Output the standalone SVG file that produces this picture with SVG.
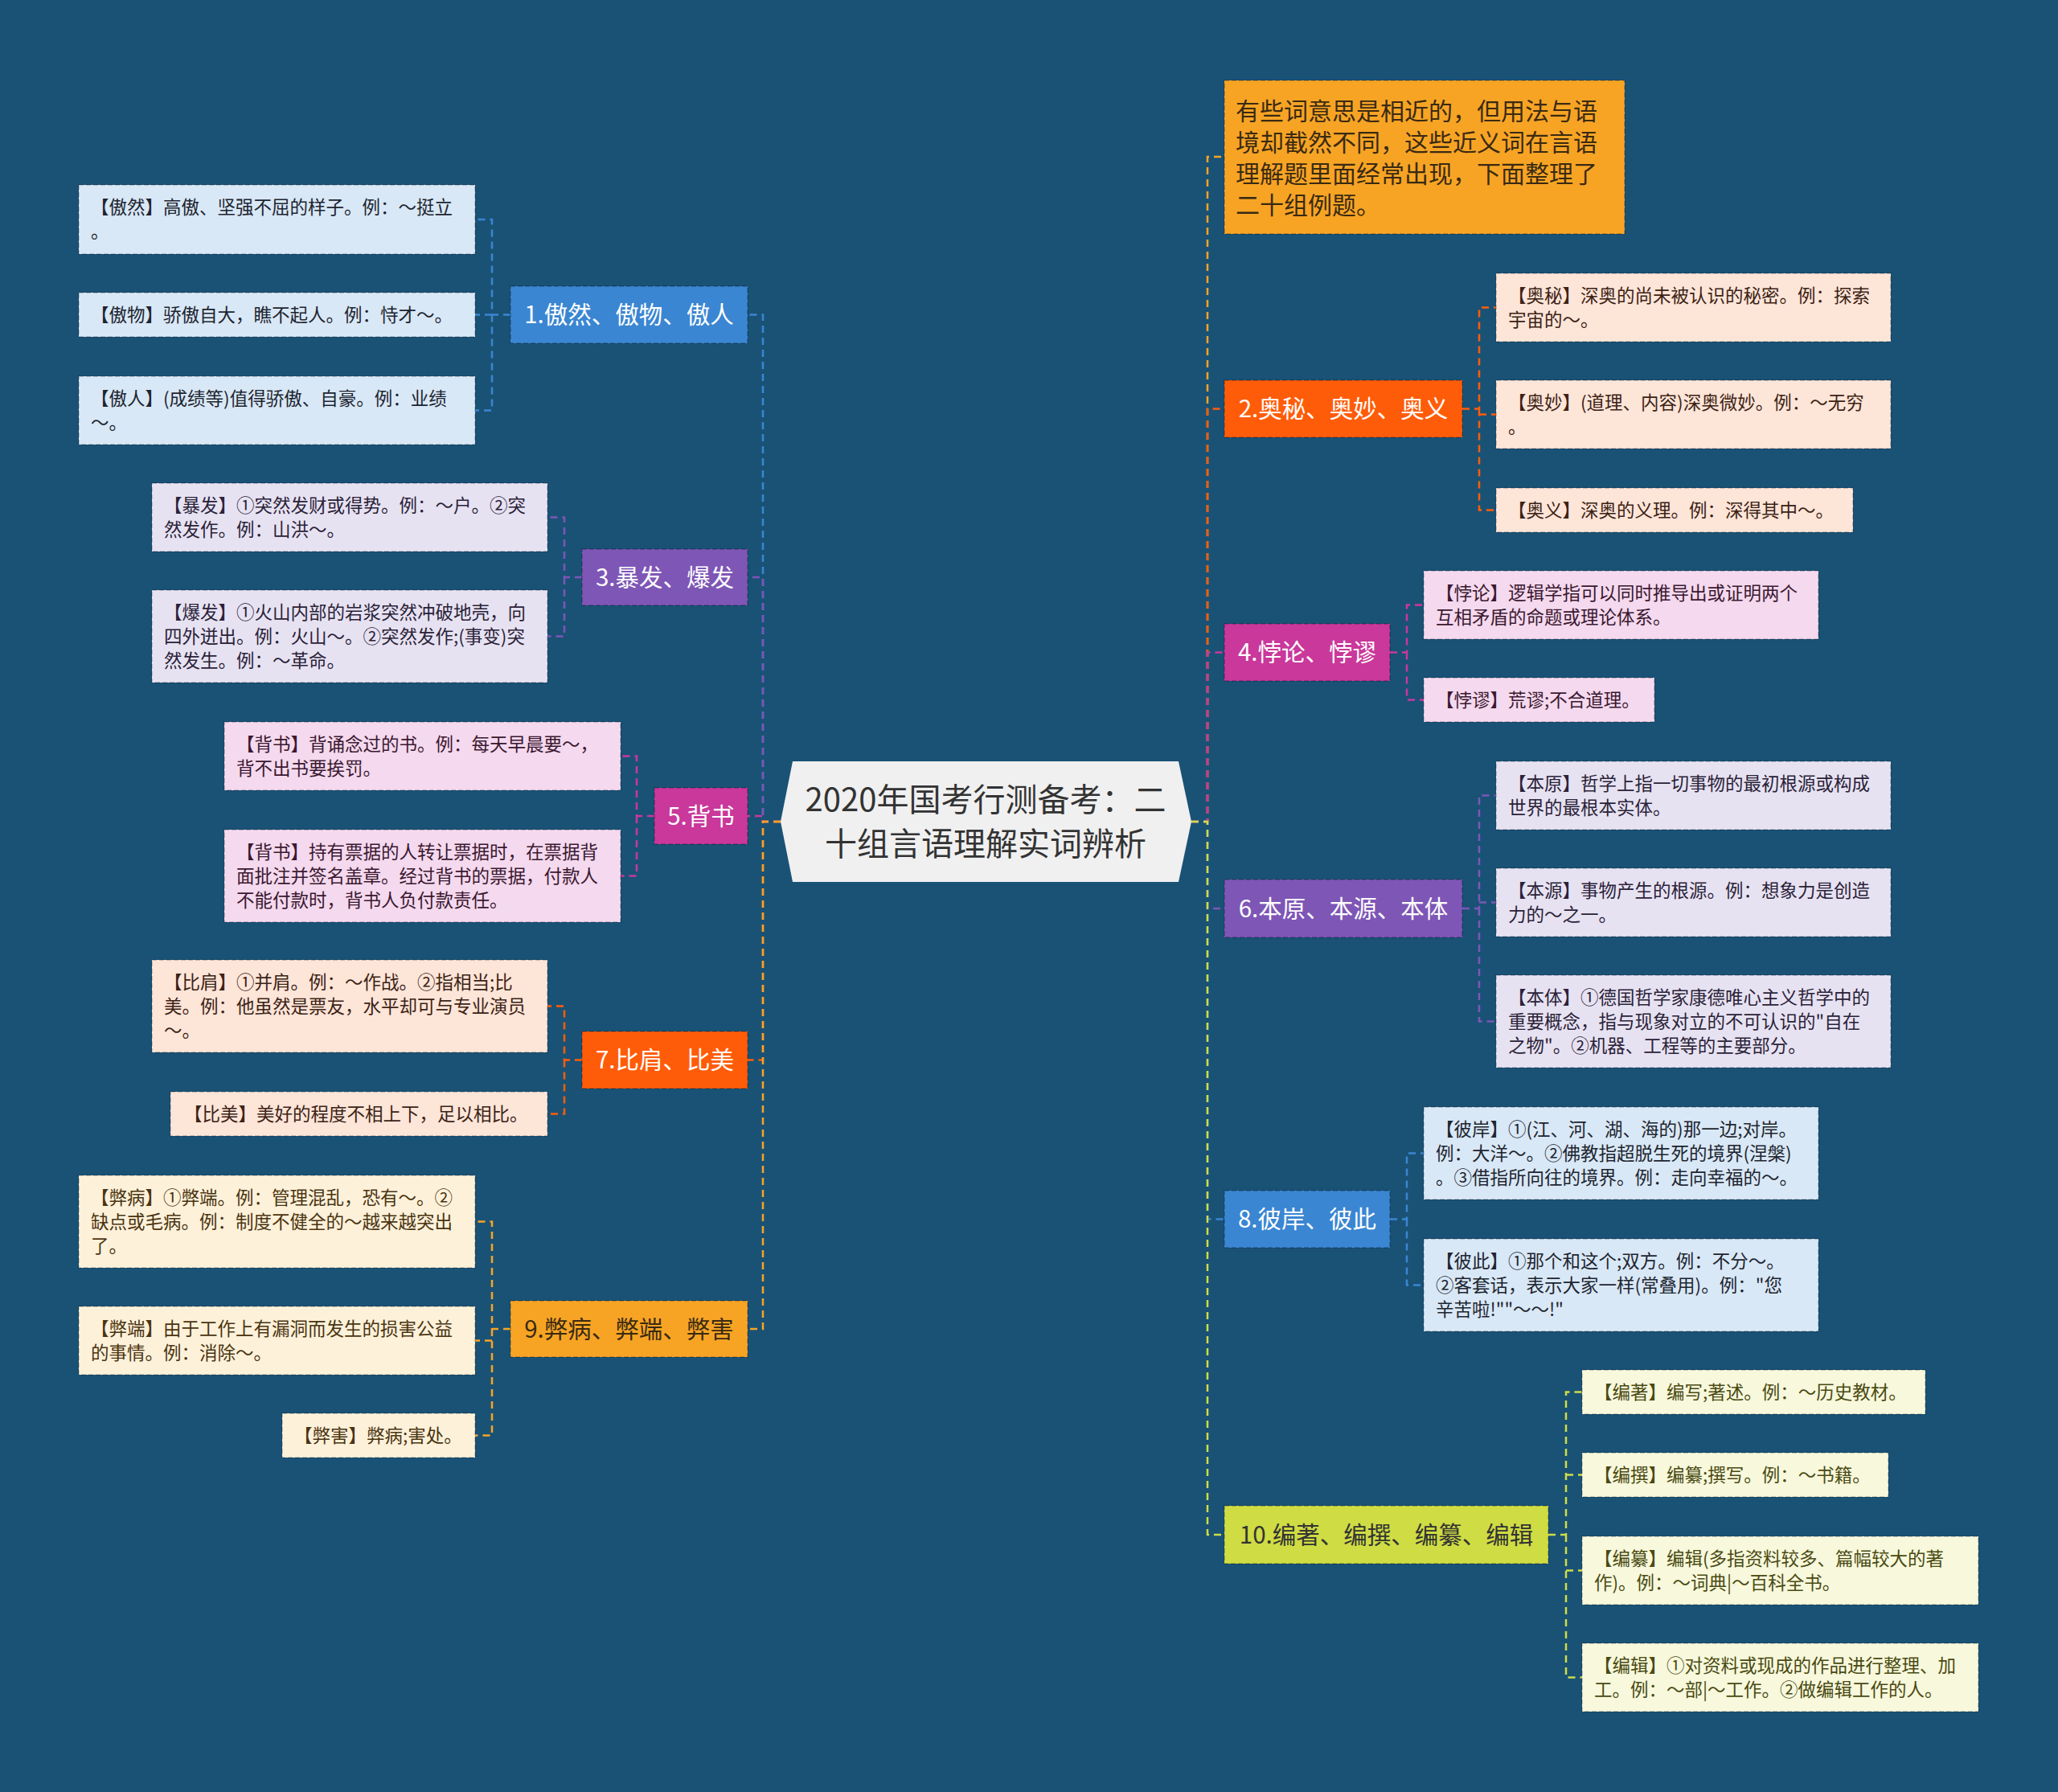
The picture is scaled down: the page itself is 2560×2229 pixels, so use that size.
<svg xmlns="http://www.w3.org/2000/svg" width="2560" height="2229" viewBox="0 0 2560 2229">
<style>
text{font-family:"Noto Sans CJK SC","Noto Sans",sans-serif}
.lf text{font-size:22.5px}
.br text{font-size:29.5px;text-anchor:middle}
.lf rect{stroke:#000;stroke-opacity:.18;stroke-width:2;stroke-dasharray:6 3}
.br rect{stroke:#000;stroke-opacity:.2;stroke-width:2;stroke-dasharray:6 3}
.cn path{fill:none;stroke-width:2.5;stroke-dasharray:9 6}
.blue{stroke:#3a86d2}.purp{stroke:#7e56b6}.mag{stroke:#c9389a}.ored{stroke:#ff5c0a}.ora{stroke:#f6a425}.yg{stroke:#cfdc43}
</style>
<rect x="0" y="0" width="2560" height="2229" fill="#1a5276"/>

<g id="connectors" class="cn">
  <!-- left trunk -->
  <path class="blue" d="M971 1022H949V391.5H930"/>
  <path class="purp" d="M971 1022H949V718H930"/>
  <path class="mag" d="M971 1022H949V1015H930"/>
  <path class="ored" d="M971 1022H949V1318.5H930"/>
  <path class="ora" d="M971 1022H949V1653H930"/>
  <!-- right trunk -->
  <path class="ora" d="M1482 1022H1502V195H1523"/>
  <path class="ored" d="M1482 1022H1502V508.5H1523"/>
  <path class="mag" d="M1482 1022H1502V811.5H1523"/>
  <path class="purp" d="M1482 1022H1502V1130H1523"/>
  <path class="blue" d="M1482 1022H1502V1516.5H1523"/>
  <path class="yg" d="M1482 1022H1502V1909H1523"/>
  <!-- branch 1 -->
  <path class="blue" d="M635 391.5H612V273H591M612 391.5H591M612 391.5V510.5H591"/>
  <!-- branch 3 -->
  <path class="purp" d="M724 718H702V643.5H681M702 718V791.5H681"/>
  <!-- branch 5 -->
  <path class="mag" d="M814 1015H792V940.5H772M792 1015V1089.5H772"/>
  <!-- branch 7 -->
  <path class="ored" d="M724 1318.5H702V1251.5H681M702 1318.5V1385.5H681"/>
  <!-- branch 9 -->
  <path class="ora" d="M635 1653H612V1519.5H591M612 1653V1785.5H591M612 1667.5H591"/>
  <!-- branch 2 -->
  <path class="ored" d="M1819 508.5H1840V382.5H1861M1840 508.5V634.5H1861M1840 515.5H1861"/>
  <!-- branch 4 -->
  <path class="mag" d="M1729 811.5H1750V752.5H1771M1750 811.5V870.5H1771"/>
  <!-- branch 6 -->
  <path class="purp" d="M1819 1130H1840V989.5H1861M1840 1130V1270.5H1861M1840 1122.5H1861"/>
  <!-- branch 8 -->
  <path class="blue" d="M1729 1516.5H1750V1434.5H1771M1750 1516.5V1598.5H1771"/>
  <!-- branch 10 -->
  <path class="yg" d="M1926 1909H1948V1731.5H1968M1948 1834.5H1968M1948 1909V2086.5H1968M1948 1953.5H1968"/>
</g>

<g id="root">
  <polygon points="971,1022 986,947 1466,947 1482,1022 1466,1097 986,1097" fill="#f0f0f0"/>
  <text x="1226" y="1009" font-size="40" fill="#333" text-anchor="middle">2020年国考行测备考：二</text>
  <text x="1226" y="1064" font-size="40" fill="#333" text-anchor="middle">十组言语理解实词辨析</text>
</g>

<g id="intro" class="br">
  <rect x="1523" y="100" width="498" height="191" fill="#f7a425"/>
  <text x="1537" y="149" fill="#3a2a12" style="text-anchor:start;font-size:30px">有些词意思是相近的，但用法与语</text>
  <text x="1537" y="188" fill="#3a2a12" style="text-anchor:start;font-size:30px">境却截然不同，这些近义词在言语</text>
  <text x="1537" y="227" fill="#3a2a12" style="text-anchor:start;font-size:30px">理解题里面经常出现，下面整理了</text>
  <text x="1537" y="266" fill="#3a2a12" style="text-anchor:start;font-size:30px">二十组例题。</text>
</g>

<!-- Branch 1 -->
<g id="b1" class="br"><rect x="635" y="356" width="295" height="71" fill="#3a86d2"/><text x="782.5" y="402" fill="#fff">1.傲然、傲物、傲人</text></g>
<g id="l1a" class="lf"><rect x="98" y="230" width="493" height="86" fill="#d9e8f6"/><text x="113" y="266" fill="#1d2530">【傲然】高傲、坚强不屈的样子。例：～挺立</text><text x="113" y="296" fill="#1d2530">。</text></g>
<g id="l1b" class="lf"><rect x="98" y="364" width="493" height="55" fill="#d9e8f6"/><text x="113" y="400" fill="#1d2530">【傲物】骄傲自大，瞧不起人。例：恃才～。</text></g>
<g id="l1c" class="lf"><rect x="98" y="468" width="493" height="85" fill="#d9e8f6"/><text x="113" y="504" fill="#1d2530">【傲人】(成绩等)值得骄傲、自豪。例：业绩</text><text x="113" y="534" fill="#1d2530">～。</text></g>

<!-- Branch 3 -->
<g id="b3" class="br"><rect x="724" y="683" width="206" height="70" fill="#7e56b6"/><text x="827" y="728.5" fill="#fff">3.暴发、爆发</text></g>
<g id="l3a" class="lf"><rect x="189" y="601" width="492" height="85" fill="#e7e2f2"/><text x="204" y="637" fill="#2a2238">【暴发】①突然发财或得势。例：～户。②突</text><text x="204" y="667" fill="#2a2238">然发作。例：山洪～。</text></g>
<g id="l3b" class="lf"><rect x="189" y="734" width="492" height="115" fill="#e7e2f2"/><text x="204" y="770" fill="#2a2238">【爆发】①火山内部的岩浆突然冲破地壳，向</text><text x="204" y="800" fill="#2a2238">四外迸出。例：火山～。②突然发作;(事变)突</text><text x="204" y="830" fill="#2a2238">然发生。例：～革命。</text></g>

<!-- Branch 5 -->
<g id="b5" class="br"><rect x="814" y="980" width="116" height="70" fill="#c9389a"/><text x="872" y="1025.5" fill="#fff">5.背书</text></g>
<g id="l5a" class="lf"><rect x="279" y="898" width="493" height="85" fill="#f5d9ee"/><text x="294" y="934" fill="#3a1830">【背书】背诵念过的书。例：每天早晨要～，</text><text x="294" y="964" fill="#3a1830">背不出书要挨罚。</text></g>
<g id="l5b" class="lf"><rect x="279" y="1032" width="493" height="115" fill="#f5d9ee"/><text x="294" y="1068" fill="#3a1830">【背书】持有票据的人转让票据时，在票据背</text><text x="294" y="1098" fill="#3a1830">面批注并签名盖章。经过背书的票据，付款人</text><text x="294" y="1128" fill="#3a1830">不能付款时，背书人负付款责任。</text></g>

<!-- Branch 7 -->
<g id="b7" class="br"><rect x="724" y="1283" width="206" height="71" fill="#ff5c0a"/><text x="827" y="1329" fill="#fff">7.比肩、比美</text></g>
<g id="l7a" class="lf"><rect x="189" y="1194" width="492" height="115" fill="#fde5d8"/><text x="204" y="1230" fill="#3c2214">【比肩】①并肩。例：～作战。②指相当;比</text><text x="204" y="1260" fill="#3c2214">美。例：他虽然是票友，水平却可与专业演员</text><text x="204" y="1290" fill="#3c2214">～。</text></g>
<g id="l7b" class="lf"><rect x="212" y="1358" width="469" height="55" fill="#fde5d8"/><text x="229" y="1394" fill="#3c2214">【比美】美好的程度不相上下，足以相比。</text></g>

<!-- Branch 9 -->
<g id="b9" class="br"><rect x="635" y="1618" width="295" height="70" fill="#f7a425"/><text x="782.5" y="1663.5" fill="#3a2a12">9.弊病、弊端、弊害</text></g>
<g id="l9a" class="lf"><rect x="98" y="1462" width="493" height="115" fill="#fdf1da"/><text x="113" y="1498" fill="#4a3410">【弊病】①弊端。例：管理混乱，恐有～。②</text><text x="113" y="1528" fill="#4a3410">缺点或毛病。例：制度不健全的～越来越突出</text><text x="113" y="1558" fill="#4a3410">了。</text></g>
<g id="l9b" class="lf"><rect x="98" y="1625" width="493" height="85" fill="#fdf1da"/><text x="113" y="1661" fill="#4a3410">【弊端】由于工作上有漏洞而发生的损害公益</text><text x="113" y="1691" fill="#4a3410">的事情。例：消除～。</text></g>
<g id="l9c" class="lf"><rect x="351" y="1758" width="240" height="55" fill="#fdf1da"/><text x="366" y="1794" fill="#4a3410">【弊害】弊病;害处。</text></g>

<!-- Branch 2 -->
<g id="b2" class="br"><rect x="1523" y="473" width="296" height="71" fill="#ff5c0a"/><text x="1671" y="519" fill="#fff">2.奥秘、奥妙、奥义</text></g>
<g id="l2a" class="lf"><rect x="1861" y="340" width="491" height="85" fill="#fde5d8"/><text x="1876" y="376" fill="#3c2214">【奥秘】深奥的尚未被认识的秘密。例：探索</text><text x="1876" y="406" fill="#3c2214">宇宙的～。</text></g>
<g id="l2b" class="lf"><rect x="1861" y="473" width="491" height="85" fill="#fde5d8"/><text x="1876" y="509" fill="#3c2214">【奥妙】(道理、内容)深奥微妙。例：～无穷</text><text x="1876" y="539" fill="#3c2214">。</text></g>
<g id="l2c" class="lf"><rect x="1861" y="607" width="444" height="55" fill="#fde5d8"/><text x="1876" y="643" fill="#3c2214">【奥义】深奥的义理。例：深得其中～。</text></g>

<!-- Branch 4 -->
<g id="b4" class="br"><rect x="1523" y="776" width="206" height="71" fill="#c9389a"/><text x="1626" y="822" fill="#fff">4.悖论、悖谬</text></g>
<g id="l4a" class="lf"><rect x="1771" y="710" width="491" height="85" fill="#f5d9ee"/><text x="1786" y="746" fill="#3a1830">【悖论】逻辑学指可以同时推导出或证明两个</text><text x="1786" y="776" fill="#3a1830">互相矛盾的命题或理论体系。</text></g>
<g id="l4b" class="lf"><rect x="1771" y="843" width="287" height="55" fill="#f5d9ee"/><text x="1786" y="879" fill="#3a1830">【悖谬】荒谬;不合道理。</text></g>

<!-- Branch 6 -->
<g id="b6" class="br"><rect x="1523" y="1094" width="296" height="72" fill="#7e56b6"/><text x="1671" y="1140.5" fill="#fff">6.本原、本源、本体</text></g>
<g id="l6a" class="lf"><rect x="1861" y="947" width="491" height="85" fill="#e7e2f2"/><text x="1876" y="983" fill="#2a2238">【本原】哲学上指一切事物的最初根源或构成</text><text x="1876" y="1013" fill="#2a2238">世界的最根本实体。</text></g>
<g id="l6b" class="lf"><rect x="1861" y="1080" width="491" height="85" fill="#e7e2f2"/><text x="1876" y="1116" fill="#2a2238">【本源】事物产生的根源。例：想象力是创造</text><text x="1876" y="1146" fill="#2a2238">力的～之一。</text></g>
<g id="l6c" class="lf"><rect x="1861" y="1213" width="491" height="115" fill="#e7e2f2"/><text x="1876" y="1249" fill="#2a2238">【本体】①德国哲学家康德唯心主义哲学中的</text><text x="1876" y="1279" fill="#2a2238">重要概念，指与现象对立的不可认识的"自在</text><text x="1876" y="1309" fill="#2a2238">之物"。②机器、工程等的主要部分。</text></g>

<!-- Branch 8 -->
<g id="b8" class="br"><rect x="1523" y="1481" width="206" height="71" fill="#3a86d2"/><text x="1626" y="1527" fill="#fff">8.彼岸、彼此</text></g>
<g id="l8a" class="lf"><rect x="1771" y="1377" width="491" height="115" fill="#d9e8f6"/><text x="1786" y="1413" fill="#1d2530">【彼岸】①(江、河、湖、海的)那一边;对岸。</text><text x="1786" y="1443" fill="#1d2530">例：大洋～。②佛教指超脱生死的境界(涅槃)</text><text x="1786" y="1473" fill="#1d2530">。③借指所向往的境界。例：走向幸福的～。</text></g>
<g id="l8b" class="lf"><rect x="1771" y="1541" width="491" height="115" fill="#d9e8f6"/><text x="1786" y="1577" fill="#1d2530">【彼此】①那个和这个;双方。例：不分～。</text><text x="1786" y="1607" fill="#1d2530">②客套话，表示大家一样(常叠用)。例："您</text><text x="1786" y="1637" fill="#1d2530">辛苦啦!""～～!"</text></g>

<!-- Branch 10 -->
<g id="b10" class="br"><rect x="1523" y="1873" width="403" height="72" fill="#cfdc43"/><text x="1724.5" y="1919.5" fill="#333">10.编著、编撰、编纂、编辑</text></g>
<g id="l10a" class="lf"><rect x="1968" y="1704" width="427" height="55" fill="#f7f8dc"/><text x="1983" y="1740" fill="#4a4a12">【编著】编写;著述。例：～历史教材。</text></g>
<g id="l10b" class="lf"><rect x="1968" y="1807" width="381" height="55" fill="#f7f8dc"/><text x="1983" y="1843" fill="#4a4a12">【编撰】编纂;撰写。例：～书籍。</text></g>
<g id="l10c" class="lf"><rect x="1968" y="1911" width="493" height="85" fill="#f7f8dc"/><text x="1983" y="1947" fill="#4a4a12">【编纂】编辑(多指资料较多、篇幅较大的著</text><text x="1983" y="1977" fill="#4a4a12">作)。例：～词典|～百科全书。</text></g>
<g id="l10d" class="lf"><rect x="1968" y="2044" width="493" height="85" fill="#f7f8dc"/><text x="1983" y="2080" fill="#4a4a12">【编辑】①对资料或现成的作品进行整理、加</text><text x="1983" y="2110" fill="#4a4a12">工。例：～部|～工作。②做编辑工作的人。</text></g>
</svg>
